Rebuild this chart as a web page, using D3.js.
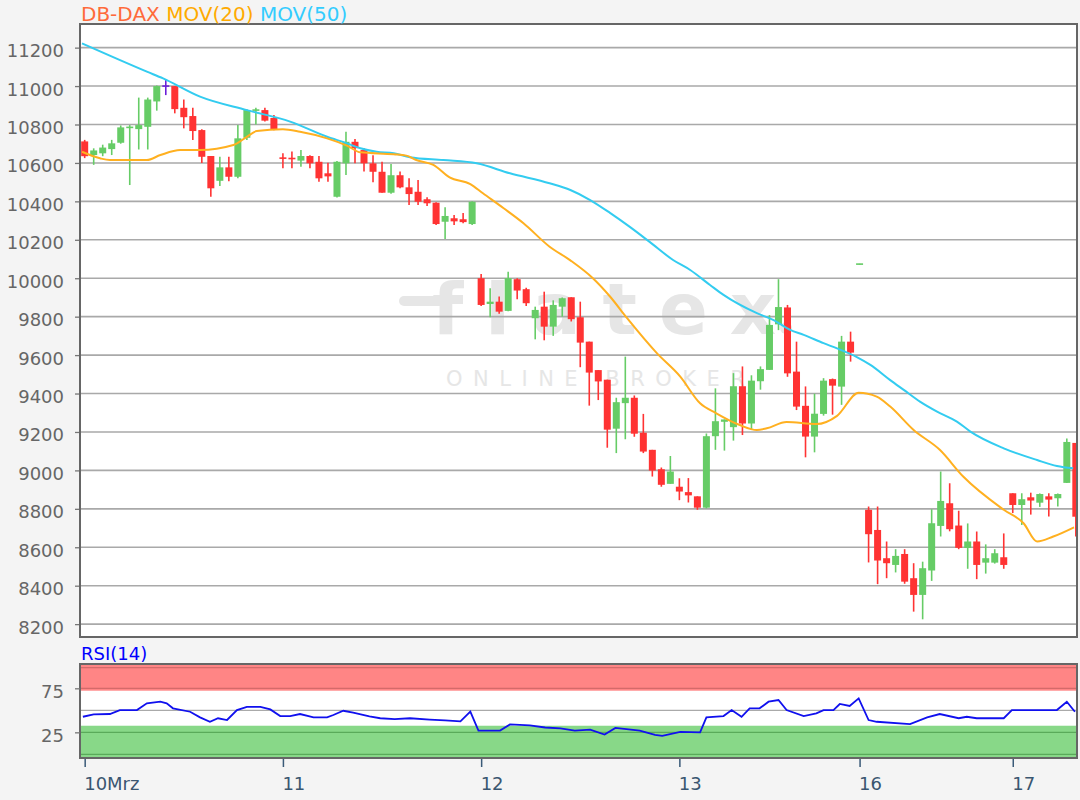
<!DOCTYPE html>
<html><head><meta charset="utf-8">
<script src="https://cdn.jsdelivr.net/npm/d3@7"></script>
<style>
html,body{margin:0;padding:0;background:#f4f4f4;}
svg{display:block;font-family:"DejaVu Sans",sans-serif;}
</style></head><body>
<svg id="chart" width="1080" height="800"></svg>
<script>
// ---- data ----
const opens  = [10712,10641,10650,10672,10705,10782,10776,10788,10920,11000,11000,10887,10844,10771,10636,10507,10577,10528,10731,10872,10875,10834,
                10626,10626,10612,10636,10606,10546,10424,10598,10710,10667,10598,10554,10445,10536,10473,10450,10411,10393,10294,10312,10307,10282,
                10000,9866,9878,9830,9995,9943,9792,9852,9748,9852,9901,9797,9670,9522,9472,9217,9350,9378,9196,9107,9006,8930,
                8915,8887,8865,8806,9178,9253,9225,9438,9244,9464,9523,9760,9848,9514,9336,9176,9294,9475,9436,9670,
                10072,8795,8690,8543,8508,8565,8439,8352,8479,8711,8829,8713,8596,8630,8520,8520,8548,
                8881,8820,8860,8832,8865,8855,8935,9143];
const highs  = [10720,10676,10695,10720,10795,10797,10940,10940,11003,11035,11000,10930,10887,10775,10636,10632,10632,10797,10880,10887,10887,10850,
                10650,10660,10667,10640,10636,10601,10610,10762,10725,10676,10640,10606,10594,10555,10520,10511,10421,10395,10369,10329,10340,10400,
                10022,9948,9905,10034,10000,9950,9852,9930,9885,9900,9901,9878,9670,9522,9472,9378,9592,9390,9294,9107,9015,9075,
                8959,8960,8865,9192,9427,9265,9506,9541,9495,9541,9808,9995,9861,9670,9437,9399,9480,9478,9700,9722,
                10075,8812,8812,8630,8590,8590,8517,8525,8798,8994,8933,8790,8724,8682,8615,8590,8672,
                8881,8881,8884,8880,8881,8880,9166,9143];
const lows   = [10625,10590,10635,10641,10700,10485,10670,10670,10872,10953,10858,10780,10719,10600,10424,10480,10505,10520,10719,10800,10815,10770,
                10572,10572,10580,10572,10502,10502,10420,10537,10598,10555,10500,10445,10440,10468,10381,10381,10376,10277,10204,10277,10286,10277,
                9855,9797,9815,9828,9890,9855,9682,9677,9700,9800,9775,9537,9337,9366,9118,9090,9162,9175,9090,8968,8915,8930,
                8845,8833,8795,8802,9107,9103,9155,9184,9210,9420,9523,9730,9487,9314,9068,9094,9285,9290,9341,9566,
                10071,8521,8408,8439,8469,8410,8265,8225,8425,8656,8683,8590,8488,8434,8463,8515,8488,
                8778,8716,8770,8810,8760,8812,8935,8656];
const closes = [10635,10665,10680,10702,10785,10788,10797,10930,11000,11000,10880,10838,10766,10632,10468,10577,10528,10728,10875,10878,10820,10775,
                10624,10620,10636,10598,10520,10530,10606,10710,10677,10598,10554,10445,10536,10473,10438,10398,10390,10282,10324,10296,10292,10398,
                9861,9878,9826,10000,9936,9870,9835,9748,9861,9896,9787,9665,9509,9463,9212,9355,9378,9191,9098,8999,8925,8994,
                8890,8870,8806,9178,9256,9265,9438,9244,9467,9527,9757,9850,9505,9332,9176,9295,9467,9441,9670,9613,
                10075,8668,8531,8517,8555,8421,8352,8491,8725,8841,8694,8597,8630,8508,8543,8569,8508,
                8820,8850,8843,8877,8848,8877,9148,8759];

const ma20Idx = [-0.3,1.7,2.8,6.9,8.4,10.6,12.8,16.5,18.0,19.1,22.0,23.9,26.9,29.1,30.6,34.3,35.7,36.8,38.7,40.5,42.8,44.2,46.5,48.7,51.6,53.9,56.4,58.3,60.2,63.5,66.1,68.3,70.1,72.7,74.6,75.7,77.9,81.2,83.5,85.9,87.9,89.4,92.0,94.9,97.5,102.0,104.2,105.7,107.5,109.8];
const ma20Val = [10658,10624,10615,10615,10641,10667,10667,10693,10736,10766,10775,10762,10728,10690,10655,10645,10638,10615,10590,10525,10490,10442,10364,10286,10164,10093,10000,9905,9792,9610,9488,9349,9297,9236,9210,9219,9252,9241,9284,9404,9384,9332,9210,9107,8968,8795,8725,8630,8656,8704];

const ma50Idx = [-0.3,6.9,8.7,12.8,18.0,22.8,26.9,29.1,30.6,32.4,34.3,36.1,39.8,43.5,47.2,51.6,53.9,56.1,58.3,60.5,62.7,65.3,67.2,69.4,70.9,74.6,76.4,78.3,79.8,82.0,83.5,85.7,87.2,89.4,90.9,92.7,94.6,96.8,98.3,102.0,105.7,107.9,109.7];
const ma50Val = [11222,11075,11040,10945,10875,10815,10736,10702,10676,10658,10650,10630,10615,10598,10546,10494,10459,10407,10340,10267,10189,10095,10043,9965,9913,9818,9783,9731,9705,9662,9635,9590,9549,9470,9419,9358,9306,9254,9202,9115,9054,9023,9011];

const rsiIdx = [-0.2,1.0,2.8,3.9,5.8,6.9,8.4,9.1,9.8,11.7,12.8,13.9,14.8,15.8,16.9,18.0,19.5,20.6,21.7,22.8,23.9,25.4,26.9,27.6,28.7,29.8,
                31.6,32.8,34.4,36.1,38.3,40.0,41.7,42.8,43.7,46.1,47.2,49.4,51.1,52.8,54.4,56.1,57.7,58.9,61.6,63.3,64.1,66.1,68.3,
                69.0,70.9,71.8,72.9,73.8,74.9,75.9,77.0,77.9,79.8,81.2,82.0,83.1,83.8,84.9,85.9,87.0,87.9,91.6,93.5,94.9,97.0,97.9,99.0,102.0,102.9,107.9,109.0,109.9];
const rsiVal = [42.7,45.5,45.8,50.3,50.3,58,59.8,58,52.3,48.4,42,37,41,39,50.3,54,54,51,43.5,43.5,45.8,42,42,44.7,49.5,47.3,
                43,41,40,41,39.5,38.5,37.5,48.5,27,27,34,33,30.5,29.5,27,28,22.5,30,27,22,21,25.5,25,
                42,43.5,50.3,42.7,52.3,52.3,59.8,61.7,50.3,43.5,46.6,50.3,50.3,57.2,54.9,63.6,39,37,34.4,42,45.8,41,42.7,41,41,50.3,50.3,59.8,48.4];

const priceTicks = [8200,8400,8600,8800,9000,9200,9400,9600,9800,10000,10200,10400,10600,10800,11000,11200];
const rsiTicks = [25,75];
const dayTickIdx = [0,22,44,66,86,103];
const dayTickLabels = ["10Mrz","11","12","13","16","17"];
const titleParts = ["DB-DAX","MOV(20)","MOV(50)"];
const rsiTitle = "RSI(14)";

// ---- layout ----
const svg = d3.select("#chart");
const L = 80, R = 1077, T = 24, B = 637;
const rT = 664, rB = 758;

const x = d3.scaleLinear().domain([-0.52, 110.13]).range([L, R]);
const y = d3.scaleLinear().domain([8133, 11323]).range([B, T]);
const ry = d3.scaleLinear().domain([-3.8, 102.6]).range([757.7, 664]);

const COL_UP = "#66cc66", COL_DN = "#ff3333", COL_EQ = "#6a1fd8";

svg.append("defs").append("clipPath").attr("id","clipMain")
  .append("rect").attr("x",L).attr("y",T).attr("width",R-L).attr("height",B-T);
svg.select("defs").append("clipPath").attr("id","clipRsi")
  .append("rect").attr("x",L).attr("y",rT).attr("width",R-L).attr("height",rB-rT);

// main panel background
svg.append("rect").attr("x",L).attr("y",T).attr("width",R-L).attr("height",B-T).attr("fill","#fff");

// watermark
const wm = svg.append("g").attr("fill","#e6e6e6").attr("clip-path","url(#clipMain)");
wm.append("line").attr("x1",404).attr("x2",446).attr("y1",301).attr("y2",301)
  .attr("stroke","#e6e6e6").attr("stroke-width",10).attr("stroke-linecap","round");
wm.append("text").attr("x",432).attr("y",334).attr("font-size",72).attr("font-weight","bold")
  .attr("letter-spacing",22).text("flatex");
wm.append("circle").attr("cx",786).attr("cy",328).attr("r",6);
wm.append("text").attr("x",446).attr("y",386).attr("font-size",21)
  .attr("letter-spacing",10.5).text("ONLINE BROKER");

// grid
svg.append("g").selectAll("line").data(priceTicks).join("line")
  .attr("x1",L).attr("x2",R).attr("y1",d=>y(d)).attr("y2",d=>y(d))
  .attr("stroke","#a9a9a9").attr("stroke-width",1.6);

// y axis
const yAxis = d3.axisLeft(y).tickValues(priceTicks).tickSize(5).tickPadding(12).tickFormat(d3.format("d"));
const gy = svg.append("g").attr("transform",`translate(${L},0)`).call(yAxis);
gy.select(".domain").remove();
gy.selectAll(".tick line").attr("stroke","#777").attr("stroke-width",1.3);
gy.selectAll(".tick text").attr("font-size",18).attr("fill","#666").attr("font-family","DejaVu Sans").attr("dy","0.5em").attr("x",-16);

// candles
const idx = d3.range(opens.length);
const cg = svg.append("g").attr("clip-path","url(#clipMain)");
const colOf = i => closes[i] > opens[i] ? COL_UP : (closes[i] < opens[i] ? COL_DN : COL_EQ);
const bw = 7;
cg.selectAll("line.wick").data(idx).join("line").attr("class","wick")
  .attr("x1",i=>x(i)).attr("x2",i=>x(i)).attr("y1",i=>y(highs[i])).attr("y2",i=>y(lows[i]))
  .attr("stroke",colOf).attr("stroke-width",1.6);
cg.selectAll("rect.body").data(idx).join("rect").attr("class","body")
  .attr("x",i=>x(i)-bw/2).attr("width",bw)
  .attr("y",i=>{const t=Math.min(y(opens[i]),y(closes[i])); const h=Math.abs(y(opens[i])-y(closes[i])); return h<1.6? (y(opens[i])+y(closes[i]))/2-0.8 : t;})
  .attr("height",i=>Math.max(1.6,Math.abs(y(opens[i])-y(closes[i]))))
  .attr("fill",colOf);

// moving averages
const lineGen = d3.line().curve(d3.curveMonotoneX);
cg.append("path").attr("d",lineGen(ma50Idx.map((d,k)=>[x(d),y(ma50Val[k])])))
  .attr("fill","none").attr("stroke","#33ccf0").attr("stroke-width",2);
cg.append("path").attr("d",lineGen(ma20Idx.map((d,k)=>[x(d),y(ma20Val[k])])))
  .attr("fill","none").attr("stroke","#ffb020").attr("stroke-width",2);

// frame
svg.append("rect").attr("x",L).attr("y",T).attr("width",R-L).attr("height",B-T)
  .attr("fill","none").attr("stroke","#666").attr("stroke-width",2);

// title
const tt = svg.append("text").attr("x",81).attr("y",20.5).attr("font-size",20);
const tcol = ["#ff6a3a","#ffaa00","#33ccff"];
titleParts.forEach((p,k)=>tt.append("tspan").attr("fill",tcol[k]).text((k?" ":"")+p));

// RSI panel
svg.append("rect").attr("x",L).attr("y",rT).attr("width",R-L).attr("height",rB-rT).attr("fill","#fff");
const rg = svg.append("g").attr("clip-path","url(#clipRsi)");
rg.append("rect").attr("x",L).attr("width",R-L).attr("y",ry(102.6)).attr("height",ry(72.3)-ry(102.6)).attr("fill","#ff8585");
rg.append("rect").attr("x",L).attr("width",R-L).attr("y",ry(32.5)).attr("height",ry(-3.8)-ry(32.5)).attr("fill","#88d888");
[[98.4,"#d46a6a"],[75,"#d46a6a"],[25,"#5aaa5a"],[0,"#5aaa5a"]].forEach(([v,c])=>
  rg.append("line").attr("x1",L).attr("x2",R).attr("y1",ry(v)).attr("y2",ry(v)).attr("stroke",c).attr("stroke-width",1.3));
rg.append("line").attr("x1",L).attr("x2",R).attr("y1",ry(50)).attr("y2",ry(50)).attr("stroke","#aaa").attr("stroke-width",1.3);
rg.append("path").attr("d",d3.line()(rsiIdx.map((d,k)=>[x(d),ry(rsiVal[k])])))
  .attr("fill","none").attr("stroke","#1010ee").attr("stroke-width",1.8);
svg.append("rect").attr("x",L).attr("y",rT).attr("width",R-L).attr("height",rB-rT)
  .attr("fill","none").attr("stroke","#666").attr("stroke-width",2);

const rAxis = d3.axisLeft(ry).tickValues(rsiTicks).tickSize(5).tickPadding(12);
const gr = svg.append("g").attr("transform",`translate(${L},0)`).call(rAxis);
gr.select(".domain").remove();
gr.selectAll(".tick line").attr("stroke","#777").attr("stroke-width",1.3);
gr.selectAll(".tick text").attr("font-size",18).attr("fill","#666").attr("font-family","DejaVu Sans").attr("dy","0.5em").attr("x",-16);

svg.append("text").attr("x",81).attr("y",660).attr("font-size",18).attr("fill","#0000ff").text(rsiTitle);

// x axis
const xAxis = d3.axisBottom(x).tickValues(dayTickIdx).tickSize(8).tickFormat((d,k)=>dayTickLabels[k]);
const gx = svg.append("g").attr("transform",`translate(0,${rB+1})`).call(xAxis);
gx.select(".domain").remove();
gx.selectAll(".tick line").attr("stroke","#3a5a78").attr("stroke-width",1.5);
gx.selectAll(".tick text").attr("font-size",18).attr("fill","#3a5670").attr("font-family","DejaVu Sans")
  .attr("text-anchor","start").attr("x",-1).attr("y",18).attr("dy","0.71em");
</script>
</body></html>
